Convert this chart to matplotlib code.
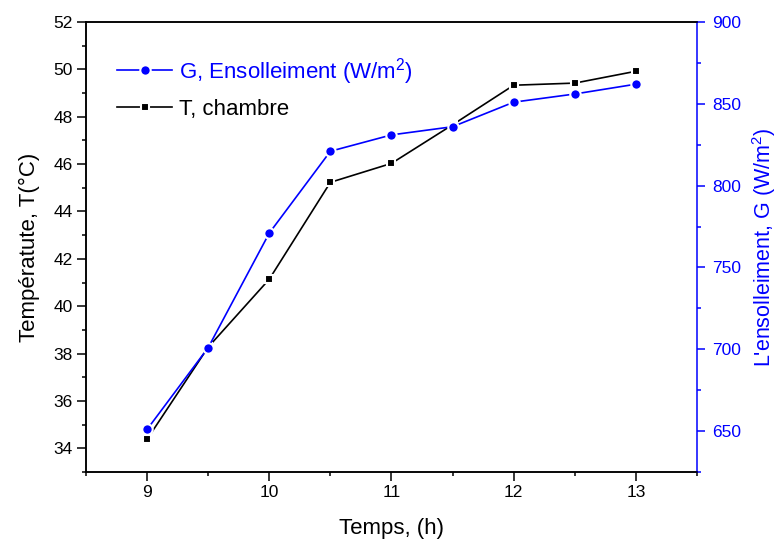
import matplotlib.pyplot as plt
from matplotlib.ticker import MultipleLocator

plt.rcParams['font.family'] = ['Liberation Sans', 'DejaVu Sans']
plt.rcParams['mathtext.fontset'] = 'custom'
plt.rcParams['mathtext.rm'] = 'Liberation Sans'
plt.rcParams['mathtext.it'] = 'Liberation Sans'

heures = [9, 9.5, 10, 10.5, 11, 11.5, 12, 12.5, 13]
temp_chambre = [34.38, 38.27, 41.14, 45.23, 46.03, 47.66, 49.33, 49.42, 49.92]
ensoleillement = [651, 701, 771, 821, 831, 836, 851, 856, 862]

bleu = '#0000ff'

fig = plt.figure(figsize=(7.78, 5.43), dpi=100)
ax = fig.add_axes([0.1105, 0.1308, 0.7854, 0.8287])
ax2 = ax.twinx()

ax.plot(heures, temp_chambre, color='black', lw=1.2, marker='s', ms=6,
        mfc='black', mec='white', mew=1.5, label='T, chambre')
ax2.plot(heures, ensoleillement, color=bleu, lw=1.2, marker='o', ms=7.5,
         mfc=bleu, mec='white', mew=1.5, label='G, Ensolleiment (W/m$^2$)')

ax.set_xlim(8.5, 13.5)
ax.set_ylim(33, 52)
ax2.set_ylim(625, 900)

ax.xaxis.set_major_locator(MultipleLocator(1))
ax.xaxis.set_minor_locator(MultipleLocator(0.5))
ax.yaxis.set_major_locator(MultipleLocator(2))
ax.yaxis.set_minor_locator(MultipleLocator(1))
ax2.yaxis.set_major_locator(MultipleLocator(50))
ax2.yaxis.set_minor_locator(MultipleLocator(25))

ax.tick_params(which='both', direction='out', width=1.1, labelsize=12.5)
ax.tick_params(which='major', length=6.5, pad=3)
ax.tick_params(which='minor', length=3.2)
ax.tick_params(top=False, which='both')
ax2.tick_params(which='both', direction='out', width=1.1, labelsize=12.5,
                colors=bleu)
ax2.tick_params(which='major', length=6, pad=5)
ax2.tick_params(which='minor', length=3.2)

for s in ax.spines.values():
    s.set_linewidth(1.1)
for s in ax2.spines.values():
    s.set_linewidth(1.1)
ax.spines['right'].set_visible(False)
ax2.spines['right'].set_color(bleu)

ax.set_xlabel('Temps, (h)', fontsize=16, labelpad=13)
ax.set_ylabel('Températute, T(°C)', fontsize=16, labelpad=10)
ax2.set_ylabel("L'ensolleiment, G (W/m$^2$)", fontsize=15.5, color=bleu,
               labelpad=6)

h1, l1 = ax2.get_legend_handles_labels()
h2, l2 = ax.get_legend_handles_labels()
leg = ax2.legend(h1 + h2, l1 + l2, loc='upper left', bbox_to_anchor=(0.036, 0.945),
                 frameon=False, fontsize=16, handlelength=2.5, handletextpad=0.3,
                 labelspacing=0.55, borderaxespad=0)
leg.get_texts()[0].set_color(bleu)

fig.savefig('out.png', dpi=100)
